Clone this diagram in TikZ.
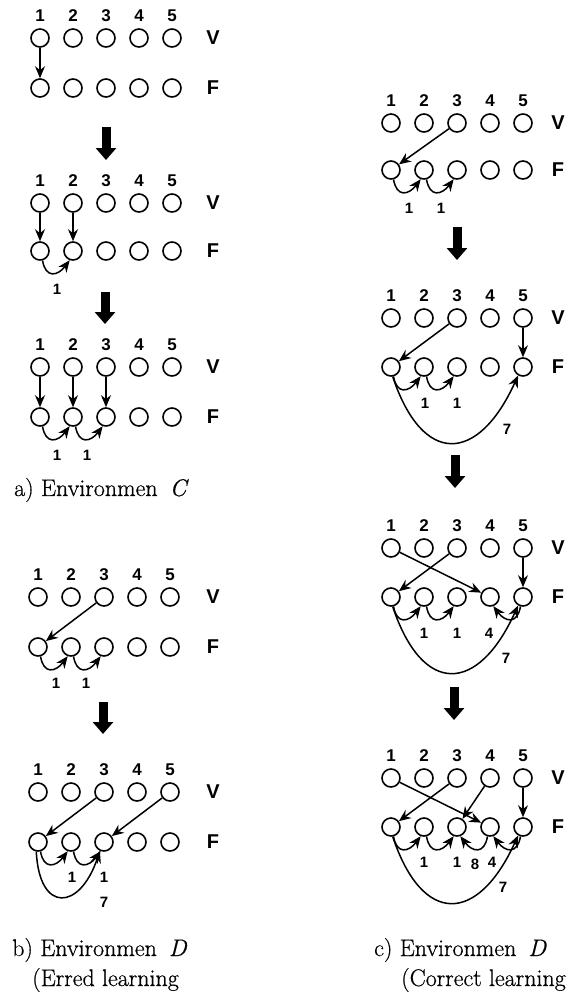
\documentclass[tikz,border=0pt]{standalone}
\usepackage{fontspec}
\newfontfamily\lsans{Liberation Sans}
\newfontfamily\capfont{Latin Modern Roman}[FakeBold=0.6]
\usetikzlibrary{arrows.meta}
\tikzset{
  circ/.style={circle, draw, line width=1.6pt, minimum size=18pt, inner sep=0pt},
  num/.style={font=\lsans\bfseries\fontsize{17}{17}\selectfont, inner sep=0pt},
  letr/.style={font=\lsans\bfseries\fontsize{20}{20}\selectfont, inner sep=0pt},
  elab/.style={font=\lsans\bfseries\fontsize{15}{15}\selectfont, inner sep=0pt},
  conn/.style={line width=1.5pt, -{Stealth[length=12pt,width=10pt]}},
  bigarrow/.style={line width=9pt, -{Triangle[length=12pt,width=20pt]}},
  captext/.style={font=\capfont\fontsize{24}{26}\selectfont, inner sep=0pt, anchor=west}
}
% #1 prefix, #2 x of first circle, #3 spacing, #4 y of V row, #5 y of F row, #6 x of letters
\newcommand\drawgrid[6]{%
  \foreach \i in {1,...,5}{%
    \node[circ] (#1v\i) at ({#2+(\i-1)*#3},#4) {};
    \node[circ] (#1f\i) at ({#2+(\i-1)*#3},#5) {};
    \node[num] (#1n\i) at ({#2+(\i-1)*#3},#4-22) {\i};
  }
  \node[letr] (#1V) at (#6,#4) {V};
  \node[letr] (#1F) at (#6,#5) {F};
}
\newcommand\arcR[2]{\draw[conn] (#1.-75) .. controls +(3,18) and +(-12,16) .. (#2.-110);}
\newcommand\arcL[2]{\draw[conn] (#1.-105) .. controls +(-3,18) and +(12,16) .. (#2.-70);}
\newcommand\arcU[2]{\draw[conn] (#1.-80) .. controls +(30,90) and +(-40,88) .. (#2.-120);}
\begin{document}
\begin{tikzpicture}[x=1pt,y=-1pt]
\path[use as bounding box] (0,0) rectangle (583,997);

% ---------- a) Environment C ----------
\drawgrid{la}{40}{33}{38}{88}{213}
\draw[conn] (lav1) -- (laf1);
\coordinate (ba1s) at (106,127); \coordinate (ba1e) at (106,160);
\draw[bigarrow] (ba1s) -- (ba1e);

\drawgrid{lb}{40}{33}{203}{251}{213}
\draw[conn] (lbv1) -- (lbf1);
\draw[conn] (lbv2) -- (lbf2);
\arcR{lbf1}{lbf2}
\node[elab] (lbl1) at (57,289) {1};
\coordinate (ba2s) at (105,292); \coordinate (ba2e) at (105,324);
\draw[bigarrow] (ba2s) -- (ba2e);

\drawgrid{lc}{40}{33}{367}{417}{213}
\draw[conn] (lcv1) -- (lcf1);
\draw[conn] (lcv2) -- (lcf2);
\draw[conn] (lcv3) -- (lcf3);
\arcR{lcf1}{lcf2}
\arcR{lcf2}{lcf3}
\node[elab] (lcl1) at (57,455) {1};
\node[elab] (lcl2) at (87,455) {1};
\node[captext] (capa) at (14,490) {a) Environmen\hspace{0.5em}\textit{C}};

% ---------- b) Environment D (erred) ----------
\drawgrid{ld}{38}{33}{597}{647}{213}
\draw[conn] (ldv3) -- (ldf1);
\arcR{ldf1}{ldf2}
\arcR{ldf2}{ldf3}
\node[elab] (ldl1) at (56,683) {1};
\node[elab] (ldl2) at (86,683) {1};
\coordinate (ba3s) at (103,702); \coordinate (ba3e) at (103,734);
\draw[bigarrow] (ba3s) -- (ba3e);

\drawgrid{le}{38}{33}{792}{842}{213}
\draw[conn] (lev3) -- (lef1);
\draw[conn] (lev5) -- (lef3);
\arcR{lef1}{lef2}
\arcR{lef2}{lef3}
\draw[conn] (lef1.-100) .. controls +(3,62) and +(-20,60) .. (lef3.-115);
\node[elab] (lel1) at (72,877) {1};
\node[elab] (lel2) at (104,877) {1};
\node[elab] (lel3) at (104,902) {7};
\node[captext] (capb) at (12,950) {b) Environmen\hspace{0.5em}\textit{D}};
\node[captext] (capb2) at (32,980) {(Erred learning};

% ---------- c) Environment D (correct) ----------
\drawgrid{ra}{391}{33}{123}{170}{558}
\draw[conn] (rav3) -- (raf1);
\arcR{raf1}{raf2}
\arcR{raf2}{raf3}
\node[elab] (ral1) at (409,208) {1};
\node[elab] (ral2) at (441,208) {1};
\coordinate (ba4s) at (457,227); \coordinate (ba4e) at (457,260);
\draw[bigarrow] (ba4s) -- (ba4e);

\drawgrid{rb}{391}{33}{318}{367}{558}
\draw[conn] (rbv3) -- (rbf1);
\draw[conn] (rbv5) -- (rbf5);
\arcR{rbf1}{rbf2}
\arcR{rbf2}{rbf3}
\arcU{rbf1}{rbf5}
\node[elab] (rbl1) at (425,403) {1};
\node[elab] (rbl2) at (457,403) {1};
\node[elab] (rbl3) at (507,429) {7};
\coordinate (ba5s) at (455,455); \coordinate (ba5e) at (455,488);
\draw[bigarrow] (ba5s) -- (ba5e);

\drawgrid{rc}{391}{33}{548}{597}{558}
\draw[conn] (rcv3) -- (rcf1);
\draw[conn] (rcv1) -- (rcf4);
\draw[conn] (rcv5) -- (rcf5);
\arcR{rcf1}{rcf2}
\arcR{rcf2}{rcf3}
\arcL{rcf5}{rcf4}
\arcU{rcf1}{rcf5}
\node[elab] (rcl1) at (424,633) {1};
\node[elab] (rcl2) at (457,633) {1};
\node[elab] (rcl3) at (489,633) {4};
\node[elab] (rcl4) at (506,658) {7};
\coordinate (ba6s) at (454,687); \coordinate (ba6e) at (454,720);
\draw[bigarrow] (ba6s) -- (ba6e);

\drawgrid{rd}{391}{33}{778}{827}{558}
\draw[conn] (rdv3) -- (rdf1);
\draw[conn] (rdv1) -- (rdf4);
\draw[conn] (rdv4) -- (rdf3);
\draw[conn] (rdv5) -- (rdf5);
\arcR{rdf1}{rdf2}
\arcR{rdf2}{rdf3}
\arcL{rdf4}{rdf3}
\arcL{rdf5}{rdf4}
\arcU{rdf1}{rdf5}
\node[elab] (rdl1) at (424,862) {1};
\node[elab] (rdl2) at (457,862) {1};
\node[elab] (rdl3) at (475,864) {8};
\node[elab] (rdl4) at (492,862) {4};
\node[elab] (rdl5) at (503,887) {7};
\node[captext] (capc) at (374,950) {c) Environmen\hspace{0.5em}\textit{D}};
\node[captext] (capc2) at (401,980) {(Correct learning};
\end{tikzpicture}
\end{document}
